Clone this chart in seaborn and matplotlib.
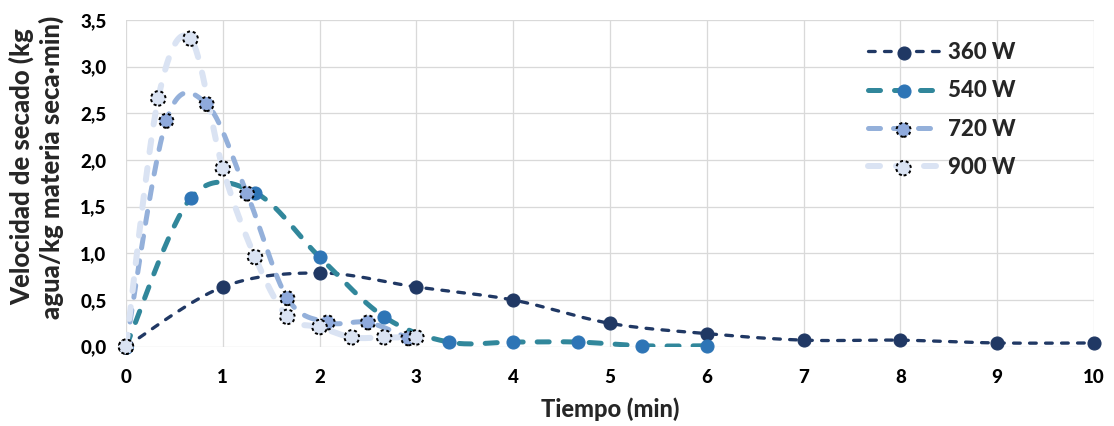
import numpy as np
import pandas as pd
import matplotlib
matplotlib.use("Agg")
import matplotlib.pyplot as plt
import seaborn as sns

# Drying-rate curves for four microwave power levels
t_360 = [0, 1, 2, 3, 4, 5, 6, 7, 8, 9, 10]
v_360 = [0.00, 0.64, 0.79, 0.64, 0.50, 0.25, 0.14, 0.07, 0.07, 0.04, 0.04]

t_540 = [0, 0.667, 1.333, 2.0, 2.667, 3.333, 4.0, 4.667, 5.333, 6.0]
v_540 = [0.00, 1.59, 1.65, 0.96, 0.32, 0.05, 0.05, 0.05, 0.01, 0.01]

t_720 = [0, 0.417, 0.833, 1.25, 1.667, 2.083, 2.5, 2.917]
v_720 = [0.00, 2.42, 2.60, 1.64, 0.52, 0.26, 0.26, 0.09]

t_900 = [0, 0.333, 0.667, 1.0, 1.333, 1.667, 2.0, 2.333, 2.667, 3.0]
v_900 = [0.00, 2.66, 3.30, 1.91, 0.96, 0.32, 0.21, 0.10, 0.10, 0.10]

series_names = ["360 W", "540 W", "720 W", "900 W"]
x_ticks = list(range(0, 11))
y_ticks = [0.0, 0.5, 1.0, 1.5, 2.0, 2.5, 3.0, 3.5]


def smooth(xs, ys, n=30):
    """Bezier smoothing through every point (spreadsheet-style smoothed line)."""
    p = np.column_stack([xs, ys]).astype(float)
    m = len(p)
    out = [p[0]]
    for i in range(m - 1):
        p0 = p[max(i - 1, 0)]
        p1 = p[i]
        p2 = p[i + 1]
        p3 = p[min(i + 2, m - 1)]
        c1 = p1 + (p2 - p0) / 6.0
        c2 = p2 - (p3 - p1) / 6.0
        s = np.linspace(0, 1, n)[1:, None]
        seg = ((1 - s) ** 3) * p1 + 3 * ((1 - s) ** 2) * s * c1 \
            + 3 * (1 - s) * s ** 2 * c2 + s ** 3 * p2
        out.extend(seg)
    out = np.array(out)
    return out[:, 0], out[:, 1]


sns.set_theme(style="whitegrid")
plt.rcParams["font.family"] = ["Lato", "DejaVu Sans"]
plt.rcParams["lines.scale_dashes"] = False
WEIGHT = 900

PX = 0.72  # points per pixel at 100 dpi

styles = [
    dict(line="#203864", face="#203864", edge="#203864", lw=3.3, dash=(6.7, 9.3),
         ms=13.0, edash=None),
    dict(line="#31879b", face="#2e75b6", edge="#2e75b6", lw=5.0, dash=(12, 14),
         ms=13.0, edash=None),
    dict(line="#94b0da", face="#8faadc", edge="black", lw=5.0, dash=(12, 13),
         ms=14, edash=(2.2, 2.0)),
    dict(line="#dae3f3", face="#dae3f3", edge="black", lw=6.0, dash=(12, 16),
         ms=14.5, edash=(2.2, 2.0)),
]
data = [(t_360, v_360), (t_540, v_540), (t_720, v_720), (t_900, v_900)]

fig = plt.figure(figsize=(11.14, 4.26), dpi=100)
ax = fig.add_axes([126 / 1114, 1 - 346.7 / 426, (1094 - 126) / 1114, (346.7 - 20) / 426])

handles = []
for name, (tx, vy), st in zip(series_names, data, styles):
    sx, sy = smooth(tx, vy)
    curve = pd.DataFrame({"t": sx, "v": sy})
    n_before = len(ax.lines)
    sns.lineplot(data=curve, x="t", y="v", ax=ax, sort=False, estimator=None,
                 color=st["line"], linewidth=st["lw"] * PX,
                 dashes=False, legend=False, zorder=2)
    ln = ax.lines[n_before]
    ln.set_dashes((st["dash"][0] * PX, st["dash"][1] * PX))
    ln.set_dash_capstyle("round")
    handles.append([ln])

for name, (tx, vy), st, h in zip(series_names, data, styles, handles):
    pts = pd.DataFrame({"t": tx, "v": vy})
    n_before = len(ax.collections)
    kw = {}
    if st["edash"] is not None:
        kw["linestyle"] = (0, (st["edash"][0], st["edash"][1]))
    sns.scatterplot(data=pts, x="t", y="v", ax=ax, color=st["face"],
                    edgecolor=st["edge"], linewidth=1.4 if st["edash"] else 0.8,
                    s=(st["ms"] * PX) ** 2, legend=False, zorder=3, clip_on=False, **kw)
    coll = ax.collections[n_before]
    h.append(coll)

ax.set_xlim(0, 10)
ax.set_ylim(0, 3.5)
ax.set_xticks(x_ticks)
ax.set_yticks(y_ticks)
ax.set_xticklabels([str(v) for v in x_ticks])
ax.set_yticklabels([f"{v:.1f}".replace(".", ",") for v in y_ticks])
ax.grid(True, color="#d9d9d9", linewidth=1.3 * PX)
for sp in ax.spines.values():
    sp.set_visible(False)
ax.tick_params(axis="both", length=0, labelsize=13.5, colors="black")
ax.tick_params(axis="y", pad=14)
ax.tick_params(axis="x", pad=16)
for lab in ax.get_xticklabels() + ax.get_yticklabels():
    lab.set_fontweight(WEIGHT)

ax.set_xlabel("Tiempo (min)", fontsize=17, fontweight=WEIGHT, labelpad=8)
ax.set_ylabel("Velocidad de secado (kg\nagua/kg materia seca·min)",
              fontsize=18.5, fontweight=WEIGHT, linespacing=1.2)
ax.yaxis.set_label_coords((64 - 126) / 968, 0.55)

leg = ax.legend([tuple(h) for h in handles], series_names,
                loc="upper left", bbox_to_anchor=((868 - 126) / 968, 1 - (42 - 20) / 326.7),
                frameon=False, fontsize=16, handlelength=3.2,
                handletextpad=0.4, labelspacing=0.78, borderpad=0, borderaxespad=0,
                scatterpoints=1)
for txt in leg.get_texts():
    txt.set_fontweight(WEIGHT)

fig.savefig("out.png", dpi=100)
